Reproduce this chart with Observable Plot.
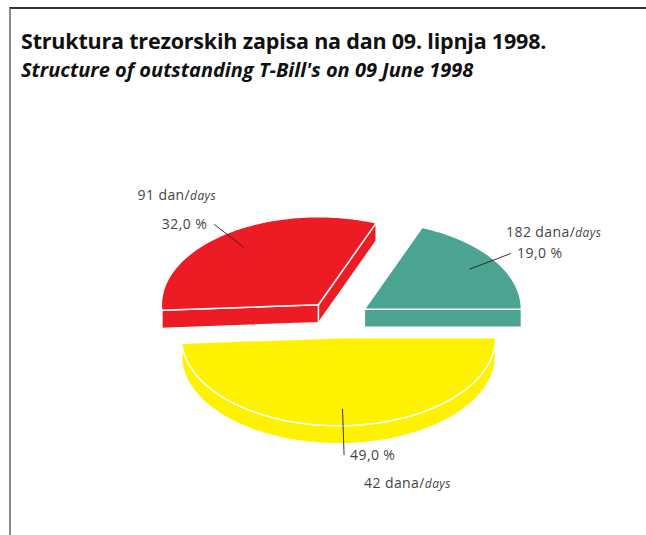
<!DOCTYPE html>
<html><head><meta charset="utf-8">
<script src="https://cdn.jsdelivr.net/npm/d3@7"></script>
<script src="https://cdn.jsdelivr.net/npm/@observablehq/plot@0.6"></script>
<style>
html,body{margin:0;padding:0;background:#fff;width:646px;height:535px;overflow:hidden;position:relative}
#frame{position:absolute;left:9px;top:7px;width:660px;height:560px;border-top:2px solid #333;border-left:2px solid #8a8a8a;box-sizing:border-box}
.t{position:absolute;left:21px;white-space:nowrap;color:#111;font-family:"Open Sans",Lato,sans-serif;font-weight:bold;line-height:1}
#title{top:30px;font-size:21.5px;letter-spacing:-0.2px}
#subtitle{top:60px;font-size:20px;font-style:italic;letter-spacing:0px}
#chart{position:absolute;left:0;top:0}
#chart text{letter-spacing:0.4px}
</style></head>
<body>
<div id="frame"></div>
<div class="t" id="title">Struktura trezorskih zapisa na dan 09. lipnja 1998.</div>
<div class="t" id="subtitle">Structure of outstanding T-Bill's on 09 June 1998</div>
<div id="chart"></div>
<script>
// ---- data (slices in counter-clockwise order starting at 3 o'clock) ----
const categories = ["182 dana", "91 dan", "42 dana"];
const unitLabel = "days";
const shares = [19.0, 32.0, 49.0];
const percentLabels = ["19,0 %", "32,0 %", "49,0 %"];
const colors = ["#4BA391", "#ED1C24", "#FFF200"];

// ---- layout / style ----
const EXPLODE = 0.207;   // radius units
const DEPTH = 0.205;     // vertical units
const STEP = Math.PI / 180;
const dayOffsets = {"182 dana": [-5, -21, "start"], "91 dan": [2, -29, "end"], "42 dana": [20, 28, "start"]};

const arcs = d3.pie().sort(null).value(d => d)(shares);
const slices = arcs.map((a, i) => {
  const mid = (a.startAngle + a.endAngle) / 2;
  return {i, a0: a.startAngle, a1: a.endAngle, mid,
    cx: EXPLODE * Math.cos(mid), cy: EXPLODE * Math.sin(mid),
    category: categories[i], pct: percentLabels[i], color: colors[i]};
});

const polys = [];
let pid = 0;
function addPoly(pts, color) {
  const id = pid++;
  pts.forEach(p => polys.push({id, color, x: p[0], y: p[1]}));
}
function arcPts(s, a0, a1, h) {
  const out = [];
  const n = Math.max(2, Math.ceil((a1 - a0) / STEP));
  for (let k = 0; k <= n; k++) {
    const a = a0 + (a1 - a0) * k / n;
    out.push([s.cx + Math.cos(a), s.cy + Math.sin(a) - h]);
  }
  return out;
}
function radialFace(s, a) {
  return [[s.cx, s.cy], [s.cx + Math.cos(a), s.cy + Math.sin(a)],
          [s.cx + Math.cos(a), s.cy + Math.sin(a) - DEPTH], [s.cx, s.cy - DEPTH]];
}
// back to front
const order = slices.slice().sort((a, b) => Math.sin(b.mid) - Math.sin(a.mid));
for (const s of order) {
  if (Math.cos(s.a0) > 0) addPoly(radialFace(s, s.a0), s.color);
  if (Math.cos(s.a1) < 0) addPoly(radialFace(s, s.a1), s.color);
  const f0 = Math.max(s.a0, Math.PI), f1 = Math.min(s.a1, 2 * Math.PI);
  if (f1 > f0) addPoly(arcPts(s, f0, f1, 0).concat(arcPts(s, f0, f1, DEPTH).reverse()), s.color);
  addPoly([[s.cx, s.cy]].concat(arcPts(s, s.a0, s.a1, 0)), s.color);
}

// leaders and labels
const leaders = slices.map(s => {
  const h = Math.sin(s.mid) < 0 ? DEPTH : 0;
  return {
    x1: s.cx + 0.81 * Math.cos(s.mid), y1: s.cy + 0.81 * Math.sin(s.mid),
    x2: s.cx + 1.13 * Math.cos(s.mid), y2: s.cy + 1.13 * Math.sin(s.mid) - h,
    right: Math.cos(s.mid) >= 0, pct: s.pct, category: s.category
  };
});

const txt = {fontFamily: "'Open Sans', Lato, sans-serif", fontSize: 14, fill: "#444"};

const chart = Plot.plot({
  width: 646, height: 535, margin: 0,
  x: {domain: [-1, 1], range: [180, 494], axis: null},
  y: {domain: [-1, 1], range: [407, 231], axis: null},
  color: {type: "identity"},
  marks: [
    Plot.line(polys, {x: "x", y: "y", z: "id", fill: "color", stroke: "white", strokeWidth: 1.4,
      strokeLinejoin: "round", curve: "linear-closed"}),
    Plot.link(leaders, {x1: "x1", y1: "y1", x2: "x2", y2: "y2", stroke: "#222", strokeWidth: 0.9}),
    Plot.text(leaders.filter(d => d.right), {x: "x2", y: "y2", text: "pct", textAnchor: "start", dx: 6, ...txt}),
    Plot.text(leaders.filter(d => !d.right), {x: "x2", y: "y2", text: "pct", textAnchor: "end", dx: -7, ...txt}),
    ...leaders.map(d => Plot.text([d], {x: "x2", y: "y2", text: e => e.category + "/" + unitLabel,
      textAnchor: dayOffsets[d.category][2], dx: dayOffsets[d.category][0], dy: dayOffsets[d.category][1], ...txt}))
  ]
});
chart.style.background = "transparent";
d3.select(chart).selectAll("text").each(function () {
  const t = this.textContent, i = t.indexOf("/" + unitLabel);
  if (i < 0) return;
  this.textContent = t.slice(0, i + 1);
  const ts = document.createElementNS("http://www.w3.org/2000/svg", "tspan");
  ts.setAttribute("font-style", "italic");
  ts.setAttribute("font-size", "12");
  ts.textContent = unitLabel;
  this.appendChild(ts);
});
document.getElementById("chart").appendChild(chart);
</script>
</body></html>
